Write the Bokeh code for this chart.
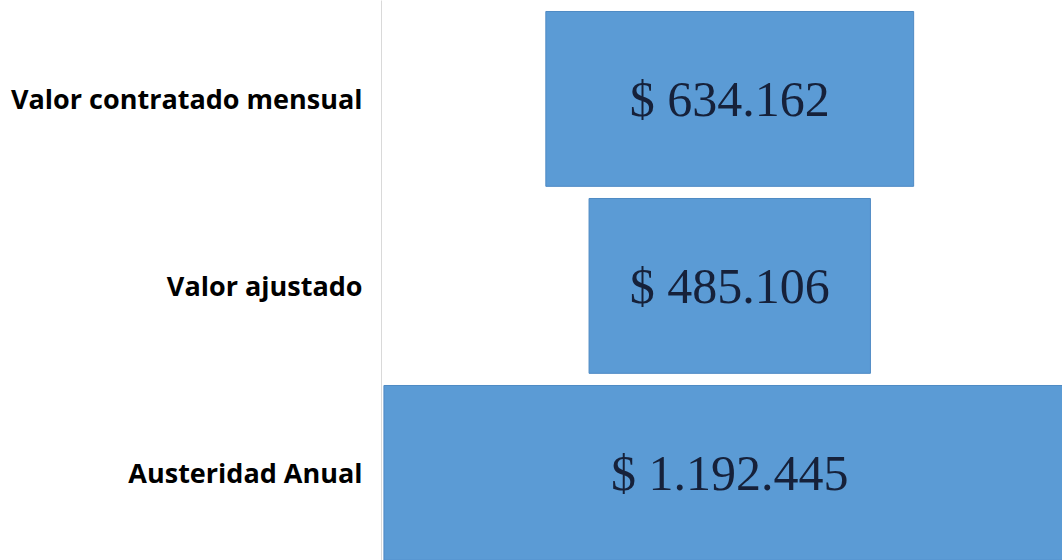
from bokeh.plotting import figure
from bokeh.models import ColumnDataSource, FixedTicker, Range1d
from bokeh.core.properties import value
from bokeh.embed import file_html
from bokeh.resources import INLINE

categories = ["Valor contratado mensual", "Valor ajustado", "Austeridad Anual"]
values = [634162, 485106, 1192445]
positions = [2, 1, 0]

labels = ["$ " + f"{v:,}".replace(",", ".") for v in values]
src = ColumnDataSource(dict(
    y=positions,
    left=[-v / 2 for v in values],
    right=[v / 2 for v in values],
    label=labels,
    xc=[0] * len(values),
))

p = figure(width=1062, height=560, output_backend="svg", toolbar_location=None,
           x_range=Range1d(-600400, 573700), y_range=Range1d(-0.4684, 2.5263),
           min_border_left=381, min_border_right=0, min_border_top=0, min_border_bottom=0)
p.outline_line_color = None
p.xgrid.visible = False
p.ygrid.visible = False
p.xaxis.visible = False

p.hbar(y="y", left="left", right="right", height=0.935, source=src,
       fill_color="#5B9BD5", line_color="#4E8AC4", line_width=1)

p.text(x="xc", y="y", text="label", source=src, text_align="center",
       text_baseline="middle", text_font=value("Liberation Serif"),
       text_font_size="50px", text_color="#16213a")

ax = p.yaxis[0]
ax.ticker = FixedTicker(ticks=positions)
ax.major_label_overrides = {pos: c for pos, c in zip(positions, categories)}
ax.axis_line_color = "#d9d9d9"
ax.axis_line_width = 1
ax.major_tick_line_color = None
ax.minor_tick_line_color = None
ax.major_label_standoff = 13
ax.major_label_text_font = "Open Sans"
ax.major_label_text_font_style = "bold"
ax.major_label_text_font_size = "27px"
ax.major_label_text_color = "#000000"

open("out.html", "w").write(file_html(p, INLINE))
